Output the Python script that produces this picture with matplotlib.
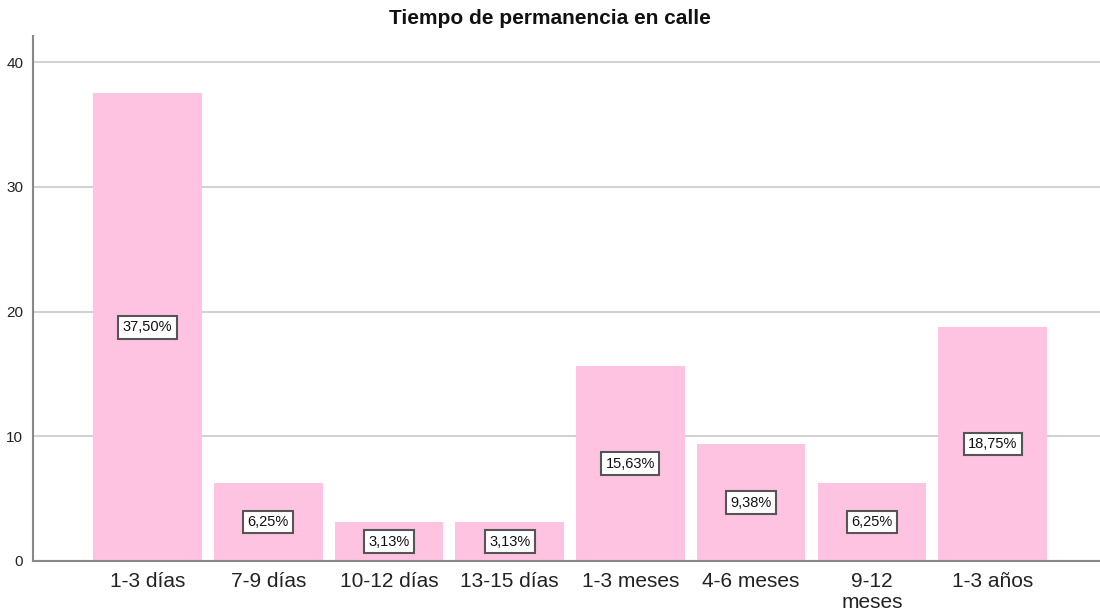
import matplotlib
matplotlib.use("Agg")
import matplotlib.pyplot as plt

categories = ["1-3 días", "7-9 días", "10-12 días", "13-15 días", "1-3 meses",
              "4-6 meses", "9-12\nmeses", "1-3 años"]
values = [37.50, 6.25, 3.125, 3.125, 15.625, 9.375, 6.25, 18.75]
labels = ["37,50%", "6,25%", "3,13%", "3,13%", "15,63%", "9,38%", "6,25%", "18,75%"]
yticks = [0, 10, 20, 30, 40]

plt.rcParams['font.family'] = ['Liberation Sans', 'DejaVu Sans']

fig = plt.figure(figsize=(11, 6.16), dpi=100)
ax = fig.add_axes([0.03, 0.0893, 0.97, 0.8523])

x = list(range(len(categories)))
ax.bar(x, values, width=0.9, color="#FEC3E1", zorder=2)
for xi, v, lab in zip(x, values, labels):
    ax.text(xi, v / 2, lab, ha="center", va="center", fontsize=10.5, zorder=3,
            color="#111111",
            bbox=dict(boxstyle="square,pad=0.3", fc="white", ec="#555555", lw=1.5))

ax.set_xlim(-0.949, 7.89)
ax.set_ylim(0, 42.1)
ax.set_yticks(yticks)
ax.set_yticklabels([str(t) for t in yticks], fontsize=11, color="#222222")
ax.set_xticks(x)
ax.set_xticklabels(categories, fontsize=15, linespacing=1.1, color="#222222")
ax.tick_params(axis="x", length=0, pad=8)
ax.tick_params(axis="y", length=0, pad=7)
ax.yaxis.grid(True, color="#D2D2D2", lw=1.5, zorder=1)
ax.set_axisbelow(True)
for s in ["top", "right"]:
    ax.spines[s].set_visible(False)
ax.spines["left"].set_color("#888888")
ax.spines["bottom"].set_color("#888888")
ax.spines["left"].set_linewidth(1.5)
ax.spines["bottom"].set_linewidth(1.5)

fig.text(0.5, 0.97, "Tiempo de permanencia en calle", ha="center", va="center",
         fontsize=15, fontweight="bold", color="#111111")

fig.savefig("out.png", dpi=100)
